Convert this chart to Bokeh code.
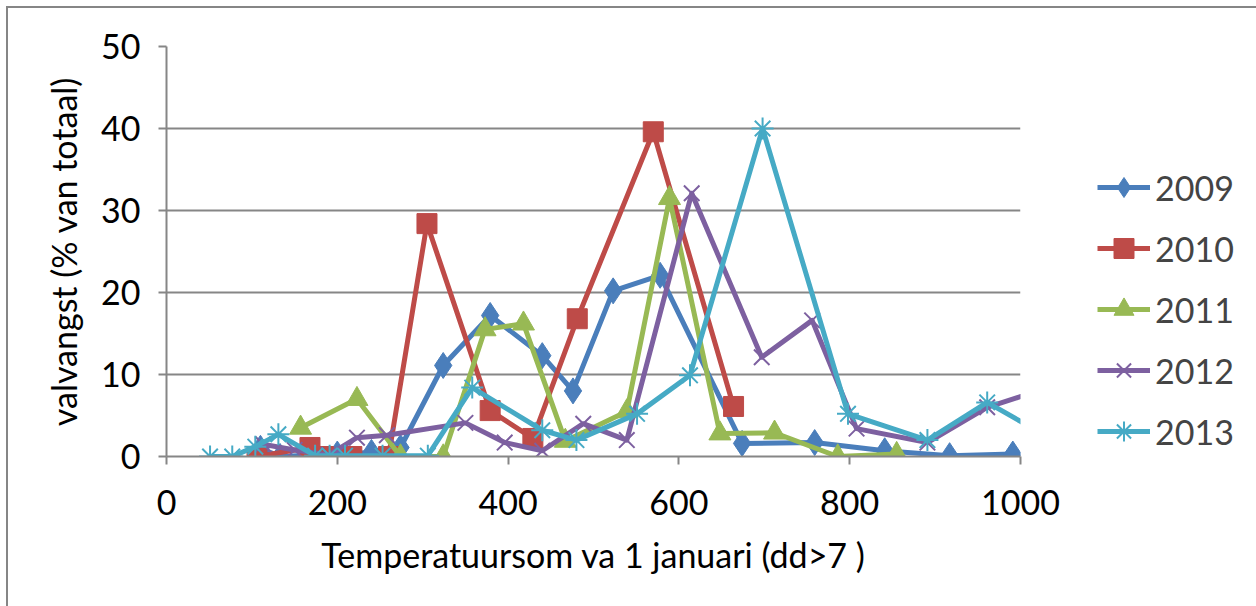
from bokeh.plotting import figure
from bokeh.models import Range1d, FixedTicker, Legend, LegendItem
from bokeh.embed import file_html
from bokeh.resources import INLINE

years = ["2009", "2010", "2011", "2012", "2013"]

x2009 = [110, 133, 200, 240, 274, 324, 379, 440, 476, 523, 578, 674, 759, 841, 917, 991]
y2009 = [1.0, 0.0, 0.3, 0.5, 1.1, 11.1, 17.2, 12.3, 8.0, 20.2, 22.1, 1.6, 1.7, 0.7, 0.1, 0.3]

x2010 = [106, 168, 184, 217, 260, 305, 379, 429, 481, 570, 664]
y2010 = [0.0, 1.1, 0.0, 0.0, 0.0, 28.4, 5.6, 2.2, 16.8, 39.6, 6.1]

x2011 = [157, 223, 274, 324, 373, 418, 467, 539, 589, 648, 712, 786, 855]
y2011 = [3.5, 7.0, 0.0, 0.0, 15.5, 16.2, 1.9, 5.5, 31.5, 2.8, 2.9, 0.0, 0.3]

x2012 = [113, 150, 190, 223, 258, 350, 396, 440, 488, 539, 615, 697, 756, 808, 891, 961, 1030]
y2012 = [1.5, 0.8, 0.2, 2.3, 2.6, 4.1, 1.7, 0.7, 4.0, 2.0, 32.1, 12.1, 16.6, 3.4, 1.7, 6.0, 8.3]

x2013 = [51, 77, 104, 131, 174, 191, 209, 253, 306, 358, 440, 480, 551, 613, 698, 798, 891, 961, 1030]
y2013 = [0.0, 0.0, 1.2, 2.7, 0.1, 0.1, 0.1, 0.1, 0.1, 8.4, 3.2, 2.0, 5.2, 9.9, 40.0, 5.2, 2.0, 6.6, 2.5]

x_ticks = [0, 200, 400, 600, 800, 1000]
y_ticks = [0, 10, 20, 30, 40, 50]

colors = ["#4A7EBB", "#BE4B48", "#98B954", "#7D60A0", "#46AAC5"]
markers = ["diamond", "square", "triangle", "x", "asterisk"]
sizes = [26, 20, 22, 22, 22]
FONT = "Lato"
FS = "34px"

p = figure(width=1248, height=598, output_backend="svg", toolbar_location=None,
           x_range=Range1d(0, 1000), y_range=Range1d(0, 50),
           frame_width=854, frame_height=410,
           min_border_left=158, min_border_top=38, min_border_right=236, min_border_bottom=150)
p.styles = {"margin-left": "6px", "margin-top": "6px",
            "border-left": "2px solid #868686", "border-top": "2px solid #868686"}
p.outline_line_color = None
p.background_fill_color = "white"
p.border_fill_color = "white"

p.xgrid.grid_line_color = None
p.ygrid.grid_line_color = "#868686"
p.ygrid.grid_line_width = 2

p.xaxis.ticker = FixedTicker(ticks=x_ticks)
p.yaxis.ticker = FixedTicker(ticks=y_ticks)
for ax in (p.xaxis[0], p.yaxis[0]):
    ax.axis_line_color = "#868686"
    ax.axis_line_width = 2
    ax.major_tick_line_color = "#868686"
    ax.major_tick_line_width = 2
    ax.major_tick_out = 8
    ax.major_tick_in = 0
    ax.minor_tick_line_color = None
    ax.major_label_text_font = FONT
    ax.major_label_text_font_size = FS
    ax.major_label_text_color = "black"
    ax.axis_label_text_font = FONT
    ax.axis_label_text_font_size = FS
    ax.axis_label_text_font_style = "normal"
    ax.axis_label_text_color = "black"

p.xaxis.axis_label = "Temperatuursom va 1 januari (dd>7 )"
p.yaxis.axis_label = "valvangst (% van totaal)"
p.xaxis.major_label_standoff = 25
p.yaxis.major_label_standoff = 18
p.xaxis.axis_label_standoff = 16
p.yaxis.axis_label_standoff = 14

xs = [x2009, x2010, x2011, x2012, x2013]
ys = [y2009, y2010, y2011, y2012, y2013]

items = []
for yr, xv, yv, c, m, s in zip(years, xs, ys, colors, markers, sizes):
    lr = p.line(xv, yv, line_color=c, line_width=5, line_join="round")
    if m in ("x", "asterisk"):
        sr = p.scatter(xv, yv, marker=m, size=s, line_color=c, line_width=2)
    else:
        sr = p.scatter(xv, yv, marker=m, size=s, fill_color=c, line_color=c, line_width=1)
    items.append(LegendItem(label=yr, renderers=[lr, sr]))

legend = Legend(items=items, location=(77, 0), padding=0, margin=0,
                glyph_width=53, glyph_height=50, label_height=30, spacing=11,
                label_standoff=5, label_text_font=FONT, label_text_font_size=FS,
                border_line_color=None, background_fill_alpha=0)
p.add_layout(legend, "right")

open("out.html", "w").write(file_html(p, INLINE))
